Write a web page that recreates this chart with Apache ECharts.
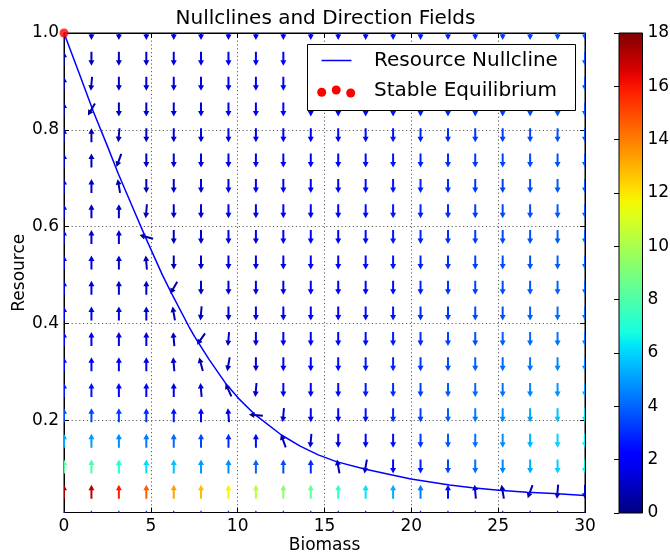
<!DOCTYPE html>
<html><head><meta charset="utf-8">
<script src="https://cdn.jsdelivr.net/npm/echarts@6/dist/echarts.min.js"></script>
<style>html,body{margin:0;padding:0;background:#fff}#c{width:670px;height:557px}</style>
</head><body><div id="c"></div>
<script>
// ---- data ----
const biomass = [0, 1.58, 3.16, 4.74, 6.32, 7.89, 9.47, 11.05, 12.63, 14.21, 15.79, 17.37, 18.95, 20.53, 22.11, 23.68, 25.26, 26.84, 28.42, 30];
const resource = [0, 0.053, 0.105, 0.158, 0.211, 0.263, 0.316, 0.368, 0.421, 0.474, 0.526, 0.579, 0.632, 0.684, 0.737, 0.789, 0.842, 0.895, 0.947, 1.0];
// arrow magnitude (colour), one row per resource level, one column per biomass level
const speed = [
  [3,3,3,3,3,3,3,3,3,3,3,3,3,3,3,3,3,3,3,3],
  [17.5,17,15.8,14.6,13.3,12.8,11.7,10.3,9.4,8.5,7.4,6.3,5.3,4.4,2.5,1.1,0.6,0.6,0.9,1.2],
  [8.3,7.9,7.1,6.2,5.7,5.0,4.7,4.0,3.6,3.0,0.8,1.0,1.8,2.7,3.5,4.2,4.6,5.3,5.9,6.4],
  [5.2,5.0,4.7,4.4,4.1,3.5,3.0,2.4,0.6,1.2,1.6,2.0,2.5,3.2,3.8,4.3,4.8,5.4,6.0,6.5],
  [3.6,3.5,3.3,3.0,2.6,2.2,1.4,0.3,1.2,1.8,2.1,2.5,2.9,3.4,3.9,4.4,4.7,5.1,5.7,6.2],
  [2.6,2.5,2.3,2.1,1.6,1.2,0.4,1.2,1.8,2.1,2.4,2.7,3.0,3.4,3.8,4.1,4.3,4.6,4.9,5.2],
  [2.2,2.1,1.9,1.6,1.2,0.7,0.8,1.3,1.8,2.1,2.4,2.6,2.9,3.2,3.6,3.9,4.1,4.3,4.6,4.8],
  [1.9,1.8,1.6,1.4,1.0,0.6,1.1,1.5,1.8,2.0,2.3,2.5,2.7,3.0,3.4,3.7,3.9,4.1,4.3,4.5],
  [1.7,1.6,1.4,1.2,0.8,1.0,1.3,1.6,1.8,2.0,2.2,2.4,2.6,2.9,3.2,3.5,3.7,3.9,4.1,4.3],
  [1.5,1.5,1.3,1.1,0.5,1.0,1.3,1.5,1.7,1.9,2.1,2.3,2.5,2.8,3.1,3.4,3.6,3.8,4.0,4.2],
  [1.4,1.4,1.2,0.7,0.8,1.1,1.4,1.6,1.8,2.0,2.2,2.4,2.6,2.8,3.1,3.4,3.6,3.7,3.9,4.1],
  [1.3,1.3,1.1,0.3,1.0,1.2,1.5,1.7,1.9,2.0,2.2,2.4,2.6,2.8,3.1,3.3,3.5,3.7,3.9,4.0],
  [1.2,1.2,0.9,0.7,1.1,1.3,1.5,1.7,1.9,2.0,2.2,2.4,2.6,2.8,3.0,3.3,3.5,3.6,3.8,4.0],
  [1.1,1.1,0.6,0.9,1.2,1.4,1.6,1.8,1.9,2.1,2.3,2.4,2.6,2.8,3.0,3.2,3.4,3.6,3.8,3.9],
  [1.0,0.9,0.5,1.0,1.3,1.5,1.6,1.8,2.0,2.1,2.3,2.4,2.6,2.8,3.0,3.2,3.4,3.6,3.7,3.9],
  [0.8,0.7,0.8,1.1,1.4,1.5,1.7,1.8,2.0,2.1,2.3,2.4,2.6,2.8,3.0,3.2,3.4,3.5,3.7,3.9],
  [0.4,0.3,0.9,1.2,1.4,1.6,1.7,1.9,2.0,2.1,2.3,2.4,2.6,2.8,3.0,3.1,3.3,3.5,3.7,3.8],
  [0.5,0.8,1.0,1.3,1.5,1.6,1.8,1.9,2.0,2.2,2.3,2.4,2.6,2.8,2.9,3.1,3.3,3.5,3.6,3.8],
  [0.3,0.9,1.1,1.3,1.5,1.6,1.8,1.9,2.0,2.2,2.3,2.4,2.6,2.7,2.9,3.1,3.3,3.4,3.6,3.8],
  [0,1.0,1.2,1.4,1.5,1.7,1.8,1.9,2.0,2.2,2.3,2.4,2.6,2.7,2.9,3.1,3.3,3.4,3.6,3.8]
];
// arrow heading in degrees (90 = up, -90 = down, 180 = left)
const heading = [
  [90,90,90,90,90,90,90,90,90,90,90,90,90,90,90,90,90,90,90,90],
  [90,90,90,90,90,90,90,90,90,90,90,90,90,90,90,95,100,-110,-95,-90],
  [90,90,90,90,90,90,90,90,90,90,100,-100,-90,-90,-90,-90,-90,-90,-90,-90],
  [90,90,90,90,90,90,90,90,110,-95,-90,-90,-90,-90,-90,-90,-90,-90,-90,-90],
  [90,90,90,90,90,90,95,175,-95,-90,-90,-90,-90,-90,-90,-90,-90,-90,-90,-90],
  [90,90,90,90,90,95,115,-95,-90,-90,-90,-90,-90,-90,-90,-90,-90,-90,-90,-90],
  [90,90,90,90,95,105,-100,-90,-90,-90,-90,-90,-90,-90,-90,-90,-90,-90,-90,-90],
  [90,90,90,90,95,-125,-95,-90,-90,-90,-90,-90,-90,-90,-90,-90,-90,-90,-90,-90],
  [90,90,90,90,100,-95,-90,-90,-90,-90,-90,-90,-90,-90,-90,-90,-90,-90,-90,-90],
  [90,90,90,90,-120,-90,-90,-90,-90,-90,-90,-90,-90,-90,-90,-90,-90,-90,-90,-90],
  [90,90,90,95,-90,-90,-90,-90,-90,-90,-90,-90,-90,-90,-90,-90,-90,-90,-90,-90],
  [90,90,90,165,-90,-90,-90,-90,-90,-90,-90,-90,-90,-90,-90,-90,-90,-90,-90,-90],
  [90,90,90,-95,-90,-90,-90,-90,-90,-90,-90,-90,-90,-90,-90,-90,-90,-90,-90,-90],
  [90,90,100,-90,-90,-90,-90,-90,-90,-90,-90,-90,-90,-90,-90,-90,-90,-90,-90,-90],
  [90,90,-110,-90,-90,-90,-90,-90,-90,-90,-90,-90,-90,-90,-90,-90,-90,-90,-90,-90],
  [90,90,-95,-90,-90,-90,-90,-90,-90,-90,-90,-90,-90,-90,-90,-90,-90,-90,-90,-90],
  [90,-120,-90,-90,-90,-90,-90,-90,-90,-90,-90,-90,-90,-90,-90,-90,-90,-90,-90,-90],
  [90,-95,-90,-90,-90,-90,-90,-90,-90,-90,-90,-90,-90,-90,-90,-90,-90,-90,-90,-90],
  [90,-90,-90,-90,-90,-90,-90,-90,-90,-90,-90,-90,-90,-90,-90,-90,-90,-90,-90,-90],
  [90,-90,-90,-90,-90,-90,-90,-90,-90,-90,-90,-90,-90,-90,-90,-90,-90,-90,-90,-90]
];
const nullB = [0, 0.84, 1.70, 2.46, 3.12, 4.0, 4.68, 5.67, 6.2, 7.19, 7.52, 8.37, 9.30, 10.12, 11.0, 12.52, 13.6, 14.64, 15.68, 17.30, 18.83, 19.98, 22.2, 23.51, 25.04, 26.66, 28.19, 30];
const nullR = [1.0, 0.92, 0.837, 0.77, 0.71, 0.636, 0.579, 0.50, 0.462, 0.394, 0.373, 0.325, 0.277, 0.243, 0.212, 0.170, 0.147, 0.129, 0.115, 0.100, 0.088, 0.079, 0.067, 0.061, 0.056, 0.052, 0.049, 0.045];
const equilibriumB = [0];
const equilibriumR = [1.0];
const xTicks = [0, 5, 10, 15, 20, 25, 30];
const yTicks = [0.2, 0.4, 0.6, 0.8, 1.0];
const cbTicks = [0, 2, 4, 6, 8, 10, 12, 14, 16, 18];
const cbRange = [0, 18];
const yRange = [0.01, 1.0];
const xRange = [0, 30];

// ---- jet colormap ----
function seg(t, pts) {
  for (let i = 1; i < pts.length; i++) {
    if (t <= pts[i][0]) {
      const a = pts[i - 1], b = pts[i];
      return a[1] + (b[1] - a[1]) * (t - a[0]) / (b[0] - a[0]);
    }
  }
  return pts[pts.length - 1][1];
}
function jet(t) {
  t = Math.max(0, Math.min(1, t));
  const r = seg(t, [[0,0],[0.35,0],[0.66,1],[0.89,1],[1,0.5]]);
  const g = seg(t, [[0,0],[0.125,0],[0.375,1],[0.64,1],[0.91,0],[1,0]]);
  const b = seg(t, [[0,0.5],[0.11,1],[0.34,1],[0.65,0],[1,0]]);
  return 'rgb(' + Math.round(r*255) + ',' + Math.round(g*255) + ',' + Math.round(b*255) + ')';
}

const arrowData = [];
for (let r = 0; r < resource.length; r++) {
  for (let c = 0; c < biomass.length; c++) {
    arrowData.push([biomass[c], resource[r], speed[r][c], heading[r][c]]);
  }
}
const nullData = nullB.map((b, i) => [b, nullR[i]]);
const eqData = equilibriumB.map((b, i) => [b, equilibriumR[i]]);

const FONT = 'DejaVu Sans';

function renderArrow(params, api) {
  const p = api.coord([api.value(0), api.value(1)]);
  const s = api.value(2);
  const a = api.value(3) * Math.PI / 180;
  const ux = Math.cos(a), uy = -Math.sin(a);
  const px = -uy, py = ux;
  const L = 14, hl = 5.5, sw = 1.0, hw = 3.0;
  const tail = [p[0] - ux * L / 2, p[1] - uy * L / 2];
  const tip = [p[0] + ux * L / 2, p[1] + uy * L / 2];
  const neck = [tip[0] - ux * hl, tip[1] - uy * hl];
  const pts = [
    [tail[0] + px * sw, tail[1] + py * sw],
    [neck[0] + px * sw, neck[1] + py * sw],
    [neck[0] + px * hw, neck[1] + py * hw],
    tip,
    [neck[0] - px * hw, neck[1] - py * hw],
    [neck[0] - px * sw, neck[1] - py * sw],
    [tail[0] - px * sw, tail[1] - py * sw]
  ];
  return { type: 'polygon', shape: { points: pts }, style: { fill: jet((s - cbRange[0]) / (cbRange[1] - cbRange[0])) } };
}

const stops = [];
for (let i = 0; i <= 40; i++) stops.push({ offset: i / 40, color: jet(i / 40) });

function renderBar(params, api) {
  const p0 = api.coord([0, api.value(0)]);
  const p1 = api.coord([1, api.value(1)]);
  return {
    type: 'rect',
    shape: { x: p0[0], y: p1[1], width: p1[0] - p0[0], height: p0[1] - p1[1] },
    style: { fill: new echarts.graphic.LinearGradient(0, 1, 0, 0, stops), stroke: '#000', lineWidth: 1 }
  };
}

const tickLabel = { fontFamily: FONT, fontSize: 17, color: '#000' };
const gridLine = { show: true, lineStyle: { color: '#333', width: 0.8, type: [1.2, 2.6] } };

const chart = echarts.init(document.getElementById('c'), null, { renderer: 'canvas' });
chart.setOption({
  animation: false,
  backgroundColor: '#fff',
  grid: [
    { left: 64, top: 33, width: 521, height: 479.5, show: true, borderColor: '#000', borderWidth: 1, containLabel: false, outerBoundsMode: 'none' },
    { left: 619, top: 33, width: 23.5, height: 480, containLabel: false, outerBoundsMode: 'none' }
  ],
  xAxis: [
    { gridIndex: 0, type: 'value', min: xRange[0], max: xRange[1], interval: 5, position: 'bottom',
      axisLine: { show: true, onZero: false, lineStyle: { color: '#000', width: 1 } },
      axisTick: { inside: true, length: 5, lineStyle: { color: '#000' } },
      axisLabel: Object.assign({ margin: 6, formatter: v => String(v) }, tickLabel),
      splitLine: gridLine,
      name: 'Biomass', nameLocation: 'middle', nameGap: 25, nameMoveOverlap: false,
      nameTextStyle: { fontFamily: FONT, fontSize: 17, color: '#000' } },
    { gridIndex: 0, type: 'value', min: xRange[0], max: xRange[1], interval: 5, position: 'top',
      axisLine: { show: true, onZero: false, lineStyle: { color: '#000', width: 1 } },
      axisTick: { inside: true, length: 5, lineStyle: { color: '#000' } },
      axisLabel: { show: false }, splitLine: { show: false } },
    { gridIndex: 1, type: 'value', min: 0, max: 1, show: false }
  ],
  yAxis: [
    { gridIndex: 0, type: 'value', min: yRange[0], max: yRange[1], position: 'left',
      axisLine: { show: true, onZero: false, lineStyle: { color: '#000', width: 1 } },
      axisTick: { inside: true, length: 5, lineStyle: { color: '#000' }, customValues: yTicks },
      axisLabel: Object.assign({ margin: 5, customValues: yTicks, formatter: v => (Math.abs(v * 5 - Math.round(v * 5)) < 1e-6 ? v.toFixed(1) : '') }, tickLabel),
      splitLine: gridLine,
      name: 'Resource', nameLocation: 'middle', nameGap: 36, nameMoveOverlap: false,
      nameTextStyle: { fontFamily: FONT, fontSize: 17, color: '#000' } },
    { gridIndex: 0, type: 'value', min: yRange[0], max: yRange[1], position: 'right',
      axisLine: { show: true, onZero: false, lineStyle: { color: '#000', width: 1 } },
      axisTick: { inside: true, length: 5, lineStyle: { color: '#000' }, customValues: yTicks },
      axisLabel: { show: false }, splitLine: { show: false } },
    { gridIndex: 1, type: 'value', min: cbRange[0], max: cbRange[1], interval: 2, position: 'right',
      axisLine: { show: false },
      axisTick: { show: true, inside: true, length: 5, lineStyle: { color: '#000' } },
      axisLabel: Object.assign({ margin: 5 }, tickLabel),
      splitLine: { show: false } }
  ],
  series: [
    { type: 'custom', name: 'field', xAxisIndex: 0, yAxisIndex: 0, clip: true, z: 2,
      renderItem: renderArrow, data: arrowData, silent: true },
    { type: 'line', name: 'Resource Nullcline', xAxisIndex: 0, yAxisIndex: 0, data: nullData,
      showSymbol: false, smooth: false, clip: true, z: 3,
      lineStyle: { color: '#0000ff', width: 1.5 }, itemStyle: { color: '#0000ff' } },
    { type: 'scatter', name: 'Stable Equilibrium', xAxisIndex: 0, yAxisIndex: 0, data: eqData,
      symbolSize: 9, clip: false, z: 5, itemStyle: { color: '#ff0000' } },
    { type: 'custom', name: 'colorbar', xAxisIndex: 2, yAxisIndex: 2, z: 2,
      renderItem: renderBar, data: [[cbRange[0], cbRange[1]]], silent: true }
  ],
  graphic: [
    { type: 'text', x: 325.5, y: 19, z: 100,
      style: { text: 'Nullclines and Direction Fields', fontFamily: FONT, fontSize: 20, fill: '#000', textAlign: 'center', textVerticalAlign: 'middle' } },
    { type: 'rect', z: 100, shape: { x: 307.5, y: 44.5, width: 268, height: 66 }, style: { fill: '#fff', stroke: '#000', lineWidth: 1 } },
    { type: 'line', z: 101, shape: { x1: 321.5, y1: 60.5, x2: 351.5, y2: 60.5 }, style: { stroke: '#0000ff', lineWidth: 1.5 } },
    { type: 'circle', z: 101, shape: { cx: 321.7, cy: 92.3, r: 4.5 }, style: { fill: '#ff0000' } },
    { type: 'circle', z: 101, shape: { cx: 336.2, cy: 90.0, r: 4.5 }, style: { fill: '#ff0000' } },
    { type: 'circle', z: 101, shape: { cx: 350.7, cy: 93.0, r: 4.5 }, style: { fill: '#ff0000' } },
    { type: 'text', z: 101, x: 374, y: 61, style: { text: 'Resource Nullcline', fontFamily: FONT, fontSize: 20, fill: '#000', textVerticalAlign: 'middle' } },
    { type: 'text', z: 101, x: 374, y: 91, style: { text: 'Stable Equilibrium', fontFamily: FONT, fontSize: 20, fill: '#000', textVerticalAlign: 'middle' } }
  ]
});
</script></body></html>
